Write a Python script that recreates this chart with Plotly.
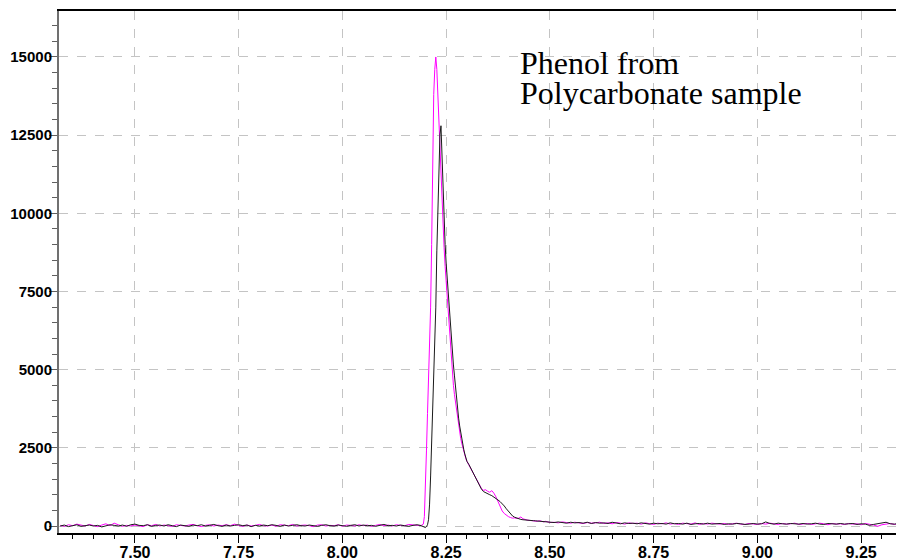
import plotly.graph_objects as go

# retention time grid (min)
times_pre = [
    7.32, 7.33, 7.34, 7.35, 7.36, 7.37, 7.38, 7.39, 7.40, 7.41,
    7.42, 7.43, 7.44, 7.45, 7.46, 7.47, 7.48, 7.49, 7.50, 7.51,
    7.52, 7.53, 7.54, 7.55, 7.56, 7.57, 7.58, 7.59, 7.60, 7.61,
    7.62, 7.63, 7.64, 7.65, 7.66, 7.67, 7.68, 7.69, 7.70, 7.71,
    7.72, 7.73, 7.74, 7.75, 7.76, 7.77, 7.78, 7.79, 7.80, 7.81,
    7.82, 7.83, 7.84, 7.85, 7.86, 7.87, 7.88, 7.89, 7.90, 7.91,
    7.92, 7.93, 7.94, 7.95, 7.96, 7.97, 7.98, 7.99, 8.00, 8.01,
    8.02, 8.03, 8.04, 8.05, 8.06, 8.07, 8.08, 8.09, 8.10, 8.11,
    8.12, 8.13, 8.14, 8.15, 8.16, 8.17, 8.18,
]
times_peak = [
    8.19, 8.1925, 8.195, 8.1975, 8.2, 8.2025, 8.205, 8.2075, 8.21, 8.2125,
    8.215, 8.2175, 8.22, 8.2225, 8.225, 8.2275, 8.23, 8.2325, 8.235, 8.2375,
    8.24, 8.2425, 8.245, 8.2475, 8.25, 8.2525, 8.255, 8.2575, 8.26, 8.2625,
    8.265, 8.2675, 8.27, 8.2725, 8.275, 8.2775, 8.28, 8.2825, 8.285, 8.2875,
    8.29, 8.2925, 8.295, 8.2975, 8.3,
]
times_tail = [
    8.305, 8.31, 8.315, 8.32, 8.325, 8.33, 8.335, 8.34, 8.345, 8.35,
    8.355, 8.36, 8.365, 8.37, 8.375, 8.38, 8.385, 8.39, 8.395, 8.40,
    8.405, 8.41, 8.415, 8.42, 8.425, 8.43, 8.435, 8.44, 8.445, 8.45,
    8.455, 8.46, 8.465, 8.47, 8.475, 8.48, 8.485, 8.49, 8.495, 8.50,
]
times_post = [
    8.51, 8.52, 8.53, 8.54, 8.55, 8.56, 8.57, 8.58, 8.59, 8.60,
    8.61, 8.62, 8.63, 8.64, 8.65, 8.66, 8.67, 8.68, 8.69, 8.70,
    8.71, 8.72, 8.73, 8.74, 8.75, 8.76, 8.77, 8.78, 8.79, 8.80,
    8.81, 8.82, 8.83, 8.84, 8.85, 8.86, 8.87, 8.88, 8.89, 8.90,
    8.91, 8.92, 8.93, 8.94, 8.95, 8.96, 8.97, 8.98, 8.99, 9.00,
    9.01, 9.02, 9.03, 9.04, 9.05, 9.06, 9.07, 9.08, 9.09, 9.10,
    9.11, 9.12, 9.13, 9.14, 9.15, 9.16, 9.17, 9.18, 9.19, 9.20,
    9.21, 9.22, 9.23, 9.24, 9.25, 9.26, 9.27, 9.28, 9.29, 9.30,
    9.31, 9.32, 9.33, 9.34, 9.35, 9.36,
]

# magenta trace
magenta_pre = [
    20, -10, 40, 10, 60, 30, 0, 50, 20, -20,
    30, 70, 10, 90, 40, -10, 20, 0, 30, 10,
    -20, 40, 10, 50, 0, 30, 20, -10, 40, 20,
    0, 30, 50, 10, -20, 20, 40, 0, 30, 10,
    40, 10, 60, 20, -10, 30, 0, 20, 50, 10,
    0, 30, -10, 40, 20, 10, 50, 0, 20, 30,
    10, -20, 30, 40, 0, 20, 10, 40, -10, 30,
    20, 0, 40, 10, 30, -10, 20, 50, 10, 30,
    0, 40, 20, 10, 50, 30, 20,
]
magenta_peak = [
    20, 30, 60, 300, 1100, 2400, 3600, 4600, 5600, 7000,
    9000, 12000, 13800, 14600, 15000, 14600, 13800, 12900, 12000, 11000,
    10100, 9500, 8900, 8300, 7800, 7300, 6800, 6300, 5800, 5300,
    4900, 4500, 4200, 3950, 3700, 3450, 3200, 2980, 2800, 2650,
    2500, 2380, 2260, 2150, 2070,
]
magenta_tail = [
    1940, 1800, 1680, 1540, 1410, 1300, 1200, 1140, 1160, 1110,
    1080, 1130, 1050, 930, 760, 600, 480, 400, 340, 300,
    270, 250, 260, 240, 250, 290, 230, 200, 190, 180,
    170, 180, 160, 150, 170, 140, 130, 150, 120, 110,
]
magenta_post = [
    120, 100, 130, 110, 90, 120, 100, 80, 110, 90,
    100, 120, 80, 100, 70, 110, 90, 60, 100, 80,
    90, 60, 100, 80, 50, 90, 70, 100, 60, 80,
    50, 90, 70, 60, 100, 50, 80, 60, 90, 70,
    60, 80, 50, 70, 90, 60, 50, 80, 70, 50,
    80, 60, 90, 70, 50, 80, 60, 70, 90, 50,
    70, 80, 50, 60, 90, 70, 40, 80, 60, 70,
    50, 80, 60, 70, 40, 80, 60, 30, -10, 40,
    60, 80, 50, 70, 60, 80,
]

# black trace
black_pre = [
    0, 30, -20, 20, 40, -10, 10, 30, 0, 20,
    -30, 10, 40, 20, 0, 30, -10, 40, 60, 20,
    10, 40, -10, 20, 30, 0, 40, 10, -20, 30,
    20, -10, 30, 10, 40, 0, 20, 50, 10, -10,
    30, 0, 20, 40, 10, 30, -20, 20, 0, 30,
    10, 40, 20, -10, 30, 0, 20, 40, 10, 0,
    30, 10, -10, 20, 40, 10, 0, 30, 20, -10,
    20, 40, 0, 30, 10, 20, -10, 30, 50, 10,
    20, 0, 30, 10, -10, 20, 40,
]
black_peak = [
    10, 0, -20, -40, -50, -20, 40, 200, 700, 1600,
    2700, 3800, 4800, 5800, 7000, 8800, 10400, 11700, 12500, 12800,
    11800, 10600, 9700, 9000, 8400, 7900, 7400, 6900, 6400, 5950,
    5550, 5150, 4800, 4400, 4050, 3750, 3450, 3200, 2980, 2780,
    2600, 2440, 2300, 2170, 2070,
]
black_tail = [
    1960, 1830, 1700, 1560, 1420, 1290, 1180, 1100, 1060, 1030,
    1000, 970, 930, 880, 830, 780, 720, 640, 550, 460,
    380, 320, 280, 250, 230, 210, 200, 190, 185, 180,
    175, 170, 165, 160, 160, 150, 145, 140, 130, 125,
]
black_post = [
    110, 130, 100, 90, 120, 100, 110, 90, 120, 80,
    110, 90, 100, 80, 120, 90, 70, 100, 80, 90,
    70, 100, 80, 60, 90, 70, 80, 60, 100, 70,
    80, 60, 90, 50, 70, 80, 60, 90, 60, 70,
    80, 50, 70, 60, 80, 70, 50, 60, 80, 60,
    70, 130, 80, 60, 90, 70, 60, 80, 70, 60,
    80, 60, 70, 90, 60, 50, 80, 70, 60, 80,
    60, 70, 80, 50, 70, 60, 20, 50, 70, 90,
    120, 70, 60, 80, 50, 70,
]

times = times_pre + times_peak + times_tail + times_post
magenta = magenta_pre + magenta_peak + magenta_tail + magenta_post
black = black_pre + black_peak + black_tail + black_post
assert len(times) == len(magenta) == len(black)

label_lines = ['Phenol from', 'Polycarbonate sample']

fig = go.Figure()
fig.add_trace(go.Scatter(x=times, y=magenta, mode='lines',
                         line=dict(color='#ff00ff', width=1), showlegend=False))
fig.add_trace(go.Scatter(x=times, y=black, mode='lines',
                         line=dict(color='#1a1a1a', width=1), showlegend=False))

x_font = dict(family='Liberation Sans, Arial', size=16, color='black', weight='bold')
y_font = dict(family='Liberation Sans, Arial', size=15, color='black', weight='bold')
grid = dict(showgrid=True, gridcolor='#c4c4c4', griddash='dash', gridwidth=1, zeroline=False)

# page body adds an 8px offset, so margins are trimmed by that much
fig.update_layout(
    width=888, height=560,
    margin=dict(l=51, r=0, t=3, b=35),
    plot_bgcolor='white', paper_bgcolor='white',
    showlegend=False,
    xaxis=dict(range=[7.317, 9.334], tick0=7.5, dtick=0.25, tickformat='.2f',
               ticks='outside', ticklen=8, tickcolor='black', tickwidth=1,
               ticklabelstandoff=-4,
               showline=True, linecolor='black', linewidth=2, mirror=True,
               tickfont=x_font, automargin=False,
               minor=dict(dtick=0.05, tick0=7.5, ticks='outside', ticklen=4,
                          tickcolor='black', showgrid=False),
               **grid),
    yaxis=dict(range=[-224, 16470], tick0=0, dtick=2500, tickformat='d',
               ticks='outside', ticklen=8, tickcolor='#606060', tickwidth=1,
               ticklabelstandoff=-6,
               showline=True, linecolor='#707070', linewidth=2,
               tickfont=y_font, automargin=False,
               minor=dict(dtick=500, ticks='outside', ticklen=5,
                          tickcolor='#606060', showgrid=False),
               **grid),
)

for txt, yv in zip(label_lines, [14800, 13840]):
    fig.add_annotation(x=8.423, y=yv, xref='x', yref='y', text=txt, showarrow=False,
                       xanchor='left', yanchor='middle',
                       font=dict(family='Liberation Serif, Times New Roman', size=32,
                                 color='black'))

fig.write_html("out.html")
